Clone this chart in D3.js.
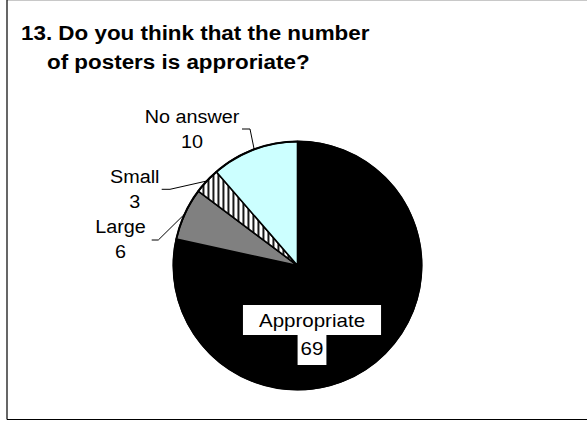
<!DOCTYPE html>
<html><head><meta charset="utf-8">
<script src="https://cdn.jsdelivr.net/npm/d3@7"></script>
<style>body{margin:0;background:#fff}svg{display:block}text{font-family:Arial,"Liberation Sans",sans-serif;fill:#000}</style>
</head><body>
<script>
// ---- data ----
const categories = ["Appropriate", "Large", "Small", "No answer"];
const values = [69, 6, 3, 10];
const titleLines = ["13. Do you think that the number", "of posters is approriate?"];

// ---- layout / style ----
const W = 587, H = 421;
const cx = 297.5, cy = 265.5, R = 124;
const fills = {"Appropriate": "#000000", "Large": "#808080", "Small": "url(#stripes)", "No answer": "#CCFFFF"};
// outside label placement: [centerX, firstBaseline, leaderStartX, leaderKneeX, leaderY]
const labelLayout = {
  "No answer": [192, 122.7, 242, 250, 129],
  "Small": [134.7, 182.7, 161.7, 170, 189.3],
  "Large": [120.5, 233.3, 151.7, 158.3, 240]
};
const insideLabel = {cx: 312, y1: 326.7, lineGap: 28.3, pad: [16, 3], boxTop: 305, boxH: 30};

const svg = d3.select("body").append("svg").attr("width", W).attr("height", H);
const defs = svg.append("defs");
const pat = defs.append("pattern").attr("id", "stripes").attr("patternUnits", "userSpaceOnUse")
  .attr("width", 5).attr("height", 10);
pat.append("rect").attr("width", 5).attr("height", 10).attr("fill", "#fff");
pat.append("rect").attr("x", 0).attr("width", 1.8).attr("height", 10).attr("fill", "#000");

// frame
svg.append("line").attr("x1", 7).attr("x2", W).attr("y1", 0.5).attr("y2", 0.5).attr("stroke", "#c8c8c8");
svg.append("line").attr("x1", 7).attr("x2", 7).attr("y1", 0).attr("y2", 419.5).attr("stroke", "#000").attr("stroke-width", 1.2);
svg.append("line").attr("x1", 7).attr("x2", W).attr("y1", 419.5).attr("y2", 419.5).attr("stroke", "#000").attr("stroke-width", 1.2);

function stretch(sel, f) {
  sel.each(function () {
    const w = this.getComputedTextLength();
    d3.select(this).attr("textLength", w * f).attr("lengthAdjust", "spacingAndGlyphs");
  });
}

// title
const tpos = [[21, 40], [47, 69]];
titleLines.forEach((t, i) => {
  svg.append("text").attr("x", tpos[i][0]).attr("y", tpos[i][1])
    .attr("font-size", 20).attr("font-weight", "bold").text(t).call(stretch, 1.12);
});

// pie
const data = categories.map((c, i) => ({cat: c, val: values[i]}));
const pie = d3.pie().sort(null).value(d => d.val);
const arcs = pie(data);
const arc = d3.arc().innerRadius(0).outerRadius(R);
const g = svg.append("g").attr("transform", `translate(${cx},${cy})`);
g.selectAll("path").data(arcs).join("path")
  .attr("d", arc)
  .attr("fill", d => fills[d.data.cat])
  .attr("stroke", "#000").attr("stroke-width", 1.6).attr("stroke-linejoin", "round");
g.append("circle").attr("r", R).attr("fill", "none").attr("stroke", "#000").attr("stroke-width", 2);

// outside labels with leader lines
arcs.forEach(a => {
  const L = labelLayout[a.data.cat];
  if (!L) return;
  const mid = (a.startAngle + a.endAngle) / 2;
  const ex = cx + R * Math.sin(mid), ey = cy - R * Math.cos(mid);
  svg.append("polyline")
    .attr("points", `${L[2]},${L[4]} ${L[3]},${L[4]} ${ex},${ey}`)
    .attr("fill", "none").attr("stroke", "#000").attr("stroke-width", 1);
  svg.append("text").attr("x", L[0]).attr("y", L[1]).attr("text-anchor", "middle")
    .attr("font-size", 18).text(a.data.cat).call(stretch, 1.1);
  svg.append("text").attr("x", L[0]).attr("y", L[1] + 25).attr("text-anchor", "middle")
    .attr("font-size", 18).text(a.data.val).call(stretch, 1.1);
});

// inside label for largest slice
const big = arcs[0];
const lines = [big.data.cat, String(big.data.val)];
const lg = svg.append("g");
lines.forEach((t, i) => {
  const txt = lg.append("text").attr("x", insideLabel.cx).attr("y", insideLabel.y1 + i * insideLabel.lineGap)
    .attr("text-anchor", "middle").attr("font-size", 19).text(t).call(stretch, 1.08);
  const bb = txt.node().getBBox();
  lg.insert("rect", "text")
    .attr("x", insideLabel.cx - bb.width / 2 - insideLabel.pad[i])
    .attr("width", bb.width + 2 * insideLabel.pad[i])
    .attr("y", insideLabel.boxTop + i * insideLabel.boxH).attr("height", insideLabel.boxH)
    .attr("fill", "#fff");
});
</script>
</body></html>
